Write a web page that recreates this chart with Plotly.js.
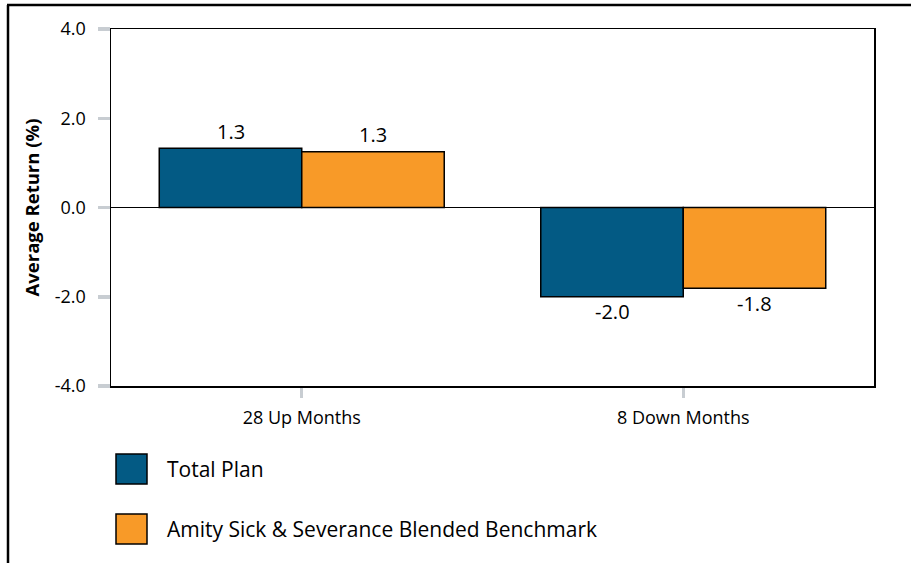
<!DOCTYPE html>
<html>
<head>
<meta charset="utf-8">
<script src="https://cdn.plot.ly/plotly-3.0.1.min.js"></script>
<style>html,body{margin:0;padding:0;background:#fff;}#chart{width:911px;height:563px;}</style>
</head>
<body>
<div id="chart"></div>
<script>
const categories = ["28 Up Months", "8 Down Months"];
const seriesNames = ["Total Plan", "Amity Sick & Severance Blended Benchmark"];
const totalPlan = [1.33, -2.00];
const benchmark = [1.25, -1.81];
const seriesColors = ["#035a84", "#f89a28"];
const yTicks = [-4, -2, 0, 2, 4];
const yTickLabels = ["-4.0", "-2.0", "0.0", "2.0", "4.0"];

const FONT = "'Open Sans', 'Noto Sans', sans-serif";

const seriesValues = [totalPlan, benchmark];
const traces = seriesValues.map((vals, i) => ({
  type: "bar",
  name: seriesNames[i],
  x: categories,
  y: vals,
  marker: { color: seriesColors[i], line: { color: "#000", width: 1.5 } },
  showlegend: false,
  hoverinfo: "skip"
}));

const annotations = [];
// value labels
seriesValues.forEach((vals, i) => {
  vals.forEach((v, j) => {
    annotations.push({
      x: categories[j], y: v, xref: "x", yref: "y",
      xshift: i === 0 ? -71 : 71,
      yshift: v >= 0 ? 17 : -15,
      xanchor: "center", yanchor: "middle",
      text: v.toFixed(1),
      showarrow: false,
      font: { family: FONT, size: 20, color: "#000" }
    });
  });
});

// legend drawn as shapes + annotations
const L = 111, W = 763, B = 386, H = 357;
const px = v => (v - L) / W;
const py = v => (B - v) / H;
const legendRows = [469, 529];
const shapes = [
  { type: "line", xref: "paper", yref: "paper", x0: px(7), x1: px(911), y0: py(5), y1: py(5), line: { color: "#000", width: 2.5 } },
  { type: "line", xref: "paper", yref: "paper", x0: px(8), x1: px(8), y0: py(5), y1: py(563), line: { color: "#000", width: 2.5 } }
];
seriesNames.forEach((n, i) => {
  const cy = legendRows[i];
  shapes.push({ type: "rect", xref: "paper", yref: "paper", x0: px(116), x1: px(147), y0: py(cy - 15), y1: py(cy + 15),
    fillcolor: seriesColors[i], line: { color: "#000", width: 1.5 } });
  annotations.push({ xref: "paper", yref: "paper", x: px(165), y: py(cy), xanchor: "left", yanchor: "middle",
    text: n, showarrow: false, font: { family: FONT, size: 21, color: "#000" } });
});

const layout = {
  width: 911, height: 563,
  margin: { l: 111, r: 37, t: 29, b: 177 },
  paper_bgcolor: "#fff", plot_bgcolor: "#fff",
  barmode: "group", bargap: 0.253, bargroupgap: 0,
  font: { family: FONT, size: 16, color: "#000" },
  xaxis: {
    type: "category",
    showline: true, mirror: true, linecolor: "#000", linewidth: 1.5,
    showgrid: false,
    ticks: "outside", ticklen: 10, tickwidth: 3, tickcolor: "#c8cdd2",
    ticklabelstandoff: 5,
    tickfont: { family: FONT, size: 18, color: "#000" }
  },
  yaxis: {
    range: [-4, 4],
    tickvals: yTicks, ticktext: yTickLabels,
    showline: true, mirror: true, linecolor: "#000", linewidth: 1.5,
    showgrid: false,
    zeroline: true, zerolinecolor: "#000", zerolinewidth: 1,
    ticks: "outside", ticklen: 12, tickwidth: 3.5, tickcolor: "#c8cdd2",
    ticklabelstandoff: 8,
    tickfont: { family: FONT, size: 18, color: "#000" },
    title: { text: "<b>Average Return (%)</b>", standoff: 10, font: { family: FONT, size: 18.5, color: "#000" } }
  },
  shapes: shapes,
  annotations: annotations,
  showlegend: false
};

Plotly.newPlot("chart", traces, layout, { displayModeBar: false, staticPlot: true });
</script>
</body>
</html>
